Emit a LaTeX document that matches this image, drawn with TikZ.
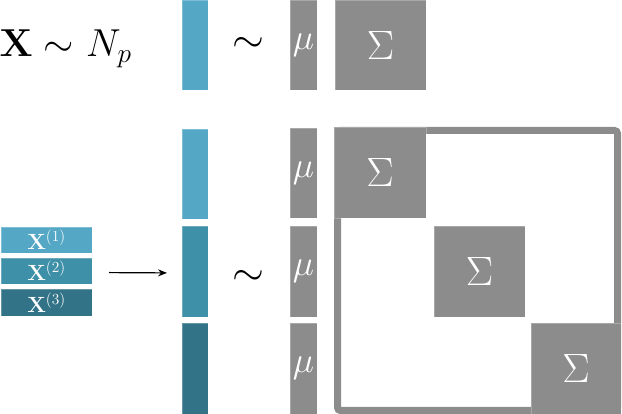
\RequirePackage{fix-cm}
\documentclass[tikz,border=0pt]{standalone}
\usetikzlibrary{arrows.meta}
\definecolor{blueA}{RGB}{84,168,197}
\definecolor{blueB}{RGB}{62,143,168}
\definecolor{blueC}{RGB}{51,115,136}
\definecolor{greyM}{RGB}{140,140,140}
\tikzset{
  big/.style={font=\fontsize{41}{44}\selectfont},
  blk/.style={rectangle, inner sep=0pt, outer sep=0pt, draw=white, draw opacity=0.25, line width=0.6pt},
  vbar/.style={blk, minimum width=26pt},
  mubar/.style={blk, fill=greyM, minimum width=27pt, text=white, font=\fontsize{36}{38}\selectfont},
  sig/.style={blk, fill=greyM, text=white, big},
  xbox/.style={blk, minimum width=91pt, text=white, font=\fontsize{22}{24}\selectfont},
}
\begin{document}
\begin{tikzpicture}[x=1pt,y=-1pt]
\useasboundingbox (0,0) rectangle (622,414);
% top row
\node[font=\fontsize{39}{42}\selectfont, anchor=base west, inner sep=0pt] (f) at (-0.5,57)
  {$\mathbf{X}\hspace{11pt}{\sim}\hspace{12pt}N_{\hspace{1pt}p}$};
\node[vbar, fill=blueA, minimum height=90pt] (b0) at (195,45) {};
\node[big, inner sep=0pt] (t0) at (248.5,45) {$\sim$};
\node[mubar, minimum height=90pt] (m0) at (303.5,45) {$\mu$};
\node[sig, minimum width=91pt, minimum height=90pt] (s0) at (380.5,45) {$\Sigma$};
% left stacked boxes
\node[xbox, fill=blueA, minimum height=26pt] (x1) at (46.5,240) {$\mathbf{X}^{(1)}$};
\node[xbox, fill=blueB, minimum height=26pt] (x2) at (46.5,271) {$\mathbf{X}^{(2)}$};
\node[xbox, fill=blueC, minimum height=27pt] (x3) at (46.5,302.5) {$\mathbf{X}^{(3)}$};
% bars
\node[vbar, fill=blueA, minimum height=90pt] (b1) at (195,174) {};
\node[vbar, fill=blueB, minimum height=91pt] (b2) at (195,271.5) {};
\node[vbar, fill=blueC, minimum height=91pt] (b3) at (195,368.5) {};
\draw[-{Stealth[length=9pt,width=7pt]}, line width=1.2pt, shorten <=17pt, shorten >=15pt]
  ([yshift=-1.5pt]x2.east) -- ([yshift=-1.5pt]b2.west);
\node[big, inner sep=0pt] (t1) at (248.5,277.5) {$\sim$};
% mu bars
\node[mubar, minimum height=90pt] (m1) at (303.5,173) {$\mu$};
\node[mubar, minimum height=91pt] (m2) at (303.5,271.5) {$\mu$};
\node[mubar, minimum height=91pt] (m3) at (303.5,368.5) {$\mu$};
% block matrix
\node[draw=greyM, line width=7pt, rounded corners=3pt, minimum width=280pt, minimum height=280pt, inner sep=0pt] (M) at (477.5,270.5) {};
\node[sig, minimum width=92pt, minimum height=91pt] (s1) at (380,172.5) {$\Sigma$};
\node[sig, minimum width=91pt, minimum height=91pt] (s2) at (479.5,271.5) {$\Sigma$};
\node[sig, minimum width=90pt, minimum height=91pt] (s3) at (576,368.5) {$\Sigma$};
\end{tikzpicture}
\end{document}
